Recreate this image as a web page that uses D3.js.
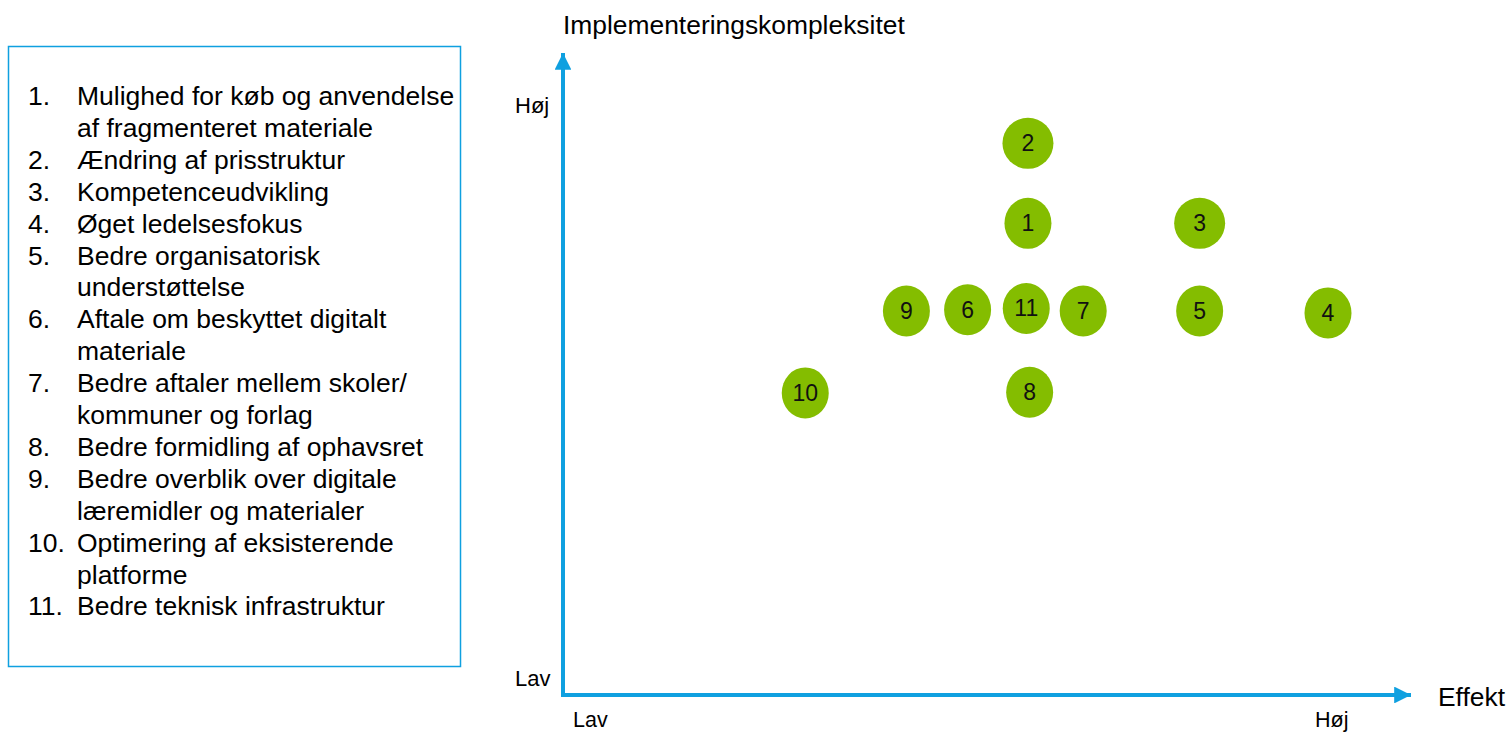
<!DOCTYPE html>
<html>
<head>
<meta charset="utf-8">
<script src="https://cdn.jsdelivr.net/npm/d3@7"></script>
<style>
  body { margin: 0; background: #fff; }
  svg { display: block; font-family: "Liberation Sans", Arial, sans-serif; }
</style>
</head>
<body>
<svg class="svg-main" width="1509" height="734"></svg>
<script>
// initiativer: nummer, effekt (0-100), implementeringskompleksitet (0-100)
const ids = [1, 2, 3, 4, 5, 6, 7, 8, 9, 10, 11];
const effekt = [54.7, 54.7, 74.9, 90.0, 74.9, 47.6, 61.2, 54.9, 40.4, 28.5, 54.5];
const kompleksitet = [73.7, 86.2, 73.7, 59.7, 60.0, 60.2, 60.0, 47.3, 60.0, 47.2, 60.4];

const legendItems = [
  ["Mulighed for køb og anvendelse", "af fragmenteret materiale"],
  ["Ændring af prisstruktur"],
  ["Kompetenceudvikling"],
  ["Øget ledelsesfokus"],
  ["Bedre organisatorisk", "understøttelse"],
  ["Aftale om beskyttet digitalt", "materiale"],
  ["Bedre aftaler mellem skoler/", "kommuner og forlag"],
  ["Bedre formidling af ophavsret"],
  ["Bedre overblik over digitale", "læremidler og materialer"],
  ["Optimering af eksisterende", "platforme"],
  ["Bedre teknisk infrastruktur"]
];

const xTitle = "Effekt";
const yTitle = "Implementeringskompleksitet";
const lowLabel = "Lav";
const highLabel = "Høj";

const svg = d3.select(".svg-main");
const blue = "#0fa0e0";
const green = "#84bd00";

// legend box
svg.append("rect")
  .attr("x", 8.5).attr("y", 46.5)
  .attr("width", 452).attr("height", 620)
  .attr("fill", "none")
  .attr("stroke", blue)
  .attr("stroke-width", 1.5);

const legend = svg.append("g").attr("class", "legend");
let lineNo = 0;
legendItems.forEach((lines, i) => {
  const y0 = 105 + lineNo * 31.9;
  legend.append("text")
    .attr("x", 28).attr("y", y0)
    .attr("font-size", 26.5)
    .text(`${ids[i]}.`);
  lines.forEach((l, j) => {
    legend.append("text")
      .attr("x", 77).attr("y", y0 + j * 31.9)
      .attr("font-size", 26.5)
      .text(l);
  });
  lineNo += lines.length;
});

// scales
const x = d3.scaleLinear().domain([0, 100]).range([563, 1413]);
const y = d3.scaleLinear().domain([0, 100]).range([695, 55]);

// axes as arrows
const defs = svg.append("defs");
defs.append("marker")
  .attr("id", "arrow")
  .attr("viewBox", "0 -5 10 10")
  .attr("refX", 10)
  .attr("refY", 0)
  .attr("markerWidth", 4.2)
  .attr("markerHeight", 4.2)
  .attr("markerUnits", "strokeWidth")
  .attr("orient", "auto")
  .append("path")
    .attr("d", "M0,-5L10,0L0,5Z")
    .attr("fill", blue);

svg.append("path")
  .attr("d", `M${x(0)},${y(0)}L${x(0)},${y(100) - 2}`)
  .attr("stroke", blue).attr("stroke-width", 4)
  .attr("fill", "none")
  .attr("marker-end", "url(#arrow)");
svg.append("path")
  .attr("d", `M${x(0) - 2},${y(0)}L${x(100) - 2},${y(0)}`)
  .attr("stroke", blue).attr("stroke-width", 4)
  .attr("fill", "none")
  .attr("marker-end", "url(#arrow)");

// axis titles and ends
svg.append("text").attr("x", 563).attr("y", 34).attr("font-size", 26.4).text(yTitle);
svg.append("text").attr("x", 1438).attr("y", 706).attr("font-size", 26.4).text(xTitle);
svg.append("text").attr("x", 515).attr("y", 113).attr("font-size", 22).text(highLabel);
svg.append("text").attr("x", 515).attr("y", 686).attr("font-size", 22).text(lowLabel);
svg.append("text").attr("x", 573).attr("y", 727).attr("font-size", 21.5).text(lowLabel);
svg.append("text").attr("x", 1315).attr("y", 727).attr("font-size", 21.5).text(highLabel);

// points
const points = ids.map((id, i) => ({ id, ef: effekt[i], ko: kompleksitet[i] }));
const node = svg.append("g").attr("class", "nodes")
  .selectAll("g")
  .data(points)
  .enter().append("g")
    .attr("transform", d => `translate(${x(d.ef)},${y(d.ko)})`);

node.append("ellipse")
  .attr("rx", d => (d.id === 2 || d.id === 3) ? 25.5 : 23.5)
  .attr("ry", 25.5)
  .attr("fill", green);

node.append("text")
  .attr("text-anchor", "middle")
  .attr("dy", 8)
  .attr("font-size", 23)
  .attr("fill", "#111")
  .text(d => d.id);
</script>
</body>
</html>
